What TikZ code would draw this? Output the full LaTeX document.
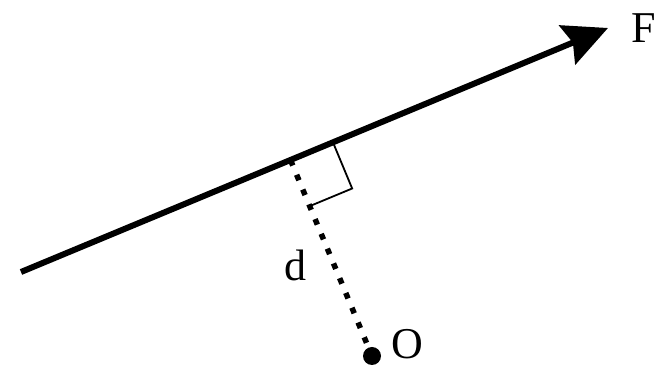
\documentclass[tikz,border=0pt]{standalone}
\usepackage{fontspec}
\setmainfont{Liberation Serif}
\usetikzlibrary{calc,arrows.meta}
\begin{document}
\begin{tikzpicture}[x=1pt,y=1pt,
    forceline/.style={
% The stroke:
      line width=6pt,
% The head:
      -{Stealth[length=44pt,width=42pt,inset=6pt]}
    },
    armline/.style={line width=5.5pt, dash pattern=on 6pt off 10pt},
    rightmark/.style={line width=1.8pt},
    pointdot/.style={circle, fill, inner sep=0pt, minimum size=18pt},
    letter/.style={font=\fontsize{44}{48}\selectfont, inner sep=0pt}
  ]
  \useasboundingbox (0,0) rectangle (657,369);
  \coordinate (start) at (21,97);
  \coordinate (tip) at (608,341);
  \node [pointdot] (O) at (372,13) {};
  \coordinate (foot) at ($(start)!(O.center)!(tip)$);
  % right angle mark
  \coordinate (sqA) at ($(foot)!46pt!(tip)$);
  \coordinate (sqC) at ($(foot)!50pt!(O.center)$);
  \coordinate (sqB) at ($(sqA)+(sqC)-(foot)$);
  \draw [rightmark] (sqA) -- (sqB) -- (sqC);
  \draw [armline] (foot) -- (O);
  \draw [forceline] (start) -- (tip);
  \node [letter, anchor=east] (Flabel) at (656,341) {F};
  \node [letter] (dlabel) at (295,104) {d};
  \node [letter] (Olabel) at (407,25) {O};
\end{tikzpicture}
\end{document}
